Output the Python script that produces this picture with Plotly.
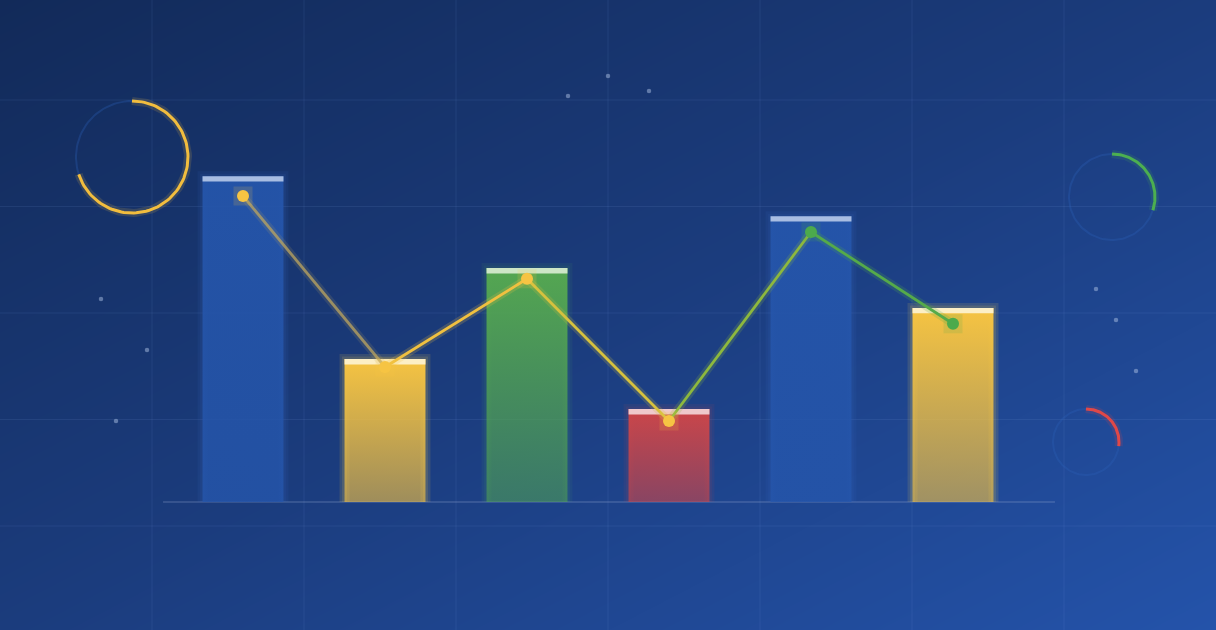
"""Decorative bar + line combo chart on a dark blue gradient"""
import numpy as np
import plotly.graph_objects as go

# ---- data ----
categories = ["A", "B", "C", "D", "E", "F"]
bar_values = [90.5, 39.7, 65, 25.8, 79.4, 53.9]
line_values = [85, 37.5, 62, 22.5, 75, 49.5]
bar_kinds = ["blue", "yellow", "green", "red", "blue", "yellow"]
point_kinds = ["yellow", "yellow", "yellow", "yellow", "green", "green"]
progress = [0.70, 0.30, 0.27]  # decorative rings: yellow, green, red

# ---- styles ----
W, H = 1216, 630
BAR_W = 0.57
CAP = 1.5

fills = {
    "blue": [[0, "rgba(37,86,172,0.80)"], [1, "rgba(37,86,172,0.92)"]],
    "yellow": [[0, "rgba(245,194,66,0.60)"], [1, "rgba(246,196,66,1)"]],
    "green": [[0, "rgba(82,165,82,0.55)"], [1, "rgba(86,170,80,0.97)"]],
    "red": [[0, "rgba(208,70,72,0.60)"], [1, "rgba(208,70,72,0.97)"]],
}
glows = {
    "blue": "rgba(60,110,200,0.10)",
    "yellow": "rgba(250,205,80,0.13)",
    "green": "rgba(90,180,90,0.08)",
    "red": "rgba(220,80,80,0.08)",
}
caps = {"blue": "#a8bde2", "yellow": "#fcefc6", "green": "#cde6c6", "red": "#efc9cc"}
point_colors = {"yellow": "#f6c443", "green": "#4caa4c"}
segment_colors = ["rgba(190,165,95,0.75)", "#f0c040", "#d6c13e", "#8db83e", "#55aa4a"]

fig = go.Figure()

# ---- background (pixel space subplot x/y) ----
fig.add_trace(go.Heatmap(
    x=[0, W], y=[0, H], z=[[0, 0.5], [0.5, 1]],
    zsmooth="best", showscale=False, hoverinfo="skip",
    colorscale=[[0, "#122a59"], [0.5, "#1b3c7d"], [1, "#2453aa"]],
    xaxis="x", yaxis="y",
))

grid_color = "rgba(140,170,235,0.11)"
for gx in range(152, W, 152):
    fig.add_trace(go.Scatter(x=[gx, gx], y=[0, H], mode="lines", hoverinfo="skip",
                             line=dict(color=grid_color, width=1), xaxis="x", yaxis="y"))
for gy in np.arange(100, H, 106.5):
    fig.add_trace(go.Scatter(x=[0, W], y=[gy, gy], mode="lines", hoverinfo="skip",
                             line=dict(color=grid_color, width=1), xaxis="x", yaxis="y"))

# floating dots
dots_x = [568, 608, 649, 101, 147, 116, 1096, 1116, 1136]
dots_y = [96, 76, 91, 299, 350, 421, 289, 320, 371]
fig.add_trace(go.Scatter(x=dots_x, y=dots_y, mode="markers", hoverinfo="skip",
                         marker=dict(size=4.5, color="rgba(170,190,225,0.5)"),
                         xaxis="x", yaxis="y"))

# progress rings
rings = [
    ((132, 157), 56, "#f2bd3e", progress[0]),
    ((1112, 197), 43, "#4caf50", progress[1]),
    ((1086, 442), 33, "#e04848", progress[2]),
]
for (cx, cy), r, col, frac in rings:
    t = np.linspace(0, 2 * np.pi, 120)
    fig.add_trace(go.Scatter(x=cx + r * np.cos(t), y=cy + r * np.sin(t), mode="lines",
                             hoverinfo="skip", line=dict(color="rgba(45,95,185,0.32)", width=2),
                             xaxis="x", yaxis="y"))
    a = np.linspace(-np.pi / 2, -np.pi / 2 + 2 * np.pi * frac, 100)
    ax_, ay_ = cx + r * np.cos(a), cy + r * np.sin(a)
    fig.add_trace(go.Scatter(x=ax_, y=ay_, mode="lines", hoverinfo="skip",
                             line=dict(color=col, width=8), opacity=0.15,
                             xaxis="x", yaxis="y"))
    fig.add_trace(go.Scatter(x=ax_, y=ay_, mode="lines", hoverinfo="skip",
                             line=dict(color=col, width=3),
                             xaxis="x", yaxis="y"))

# ---- chart (data space subplot x2/y2) ----
xs = list(range(len(categories)))


def rect(i, y0, y1):
    return ([i - BAR_W / 2, i + BAR_W / 2, i + BAR_W / 2, i - BAR_W / 2, i - BAR_W / 2],
            [y0, y0, y1, y1, y0])


# soft halo behind each bar (open path: sides and top only)
for i, (v, kind) in enumerate(zip(bar_values, bar_kinds)):
    hx = [i - BAR_W / 2, i - BAR_W / 2, i + BAR_W / 2, i + BAR_W / 2]
    hy = [0, v, v, 0]
    for w in (10, 5):
        fig.add_trace(go.Scatter(x=hx, y=hy, mode="lines", hoverinfo="skip",
                                 line=dict(color=glows[kind], width=w),
                                 xaxis="x2", yaxis="y2"))

for i, (v, kind) in enumerate(zip(bar_values, bar_kinds)):
    rx, ry = rect(i, 0, v)
    fig.add_trace(go.Scatter(
        x=rx, y=ry, mode="lines", fill="toself", hoverinfo="skip",
        line=dict(width=0),
        fillgradient=dict(type="vertical", colorscale=fills[kind]),
        xaxis="x2", yaxis="y2", name=categories[i],
    ))
    cx_, cy_ = rect(i, v - CAP, v)
    fig.add_trace(go.Scatter(
        x=cx_, y=cy_, mode="lines", fill="toself", hoverinfo="skip",
        fillcolor=caps[kind], line=dict(width=0),
        xaxis="x2", yaxis="y2",
    ))

# line glow + segments
for i in range(len(xs) - 1):
    seg_x = xs[i:i + 2]
    seg_y = line_values[i:i + 2]
    fig.add_trace(go.Scatter(x=seg_x, y=seg_y, mode="lines", hoverinfo="skip",
                             line=dict(color=segment_colors[i], width=8), opacity=0.2,
                             xaxis="x2", yaxis="y2"))
    fig.add_trace(go.Scatter(x=seg_x, y=seg_y, mode="lines", hoverinfo="skip",
                             line=dict(color=segment_colors[i], width=2.8),
                             xaxis="x2", yaxis="y2"))

pcols = [point_colors[k] for k in point_kinds]
fig.add_trace(go.Scatter(x=xs, y=line_values, mode="markers", hoverinfo="skip",
                         marker=dict(symbol="square", size=19, color=pcols, opacity=0.16),
                         xaxis="x2", yaxis="y2"))
fig.add_trace(go.Scatter(x=xs, y=line_values, mode="markers",
                         marker=dict(size=12, color=pcols),
                         hovertemplate="%{y}<extra></extra>",
                         xaxis="x2", yaxis="y2"))

# baseline
fig.add_shape(type="line", xref="x2", yref="y2", x0=-0.563, x1=5.718, y0=0, y1=0,
              line=dict(color="rgba(150,170,210,0.45)", width=1), layer="below")

hidden = dict(visible=False, showgrid=False, zeroline=False, fixedrange=True)
fig.update_layout(
    width=W, height=H,
    margin=dict(l=0, r=0, t=0, b=0),
    paper_bgcolor="#1b3c7d", plot_bgcolor="rgba(0,0,0,0)",
    showlegend=False,
    xaxis=dict(range=[0, W], domain=[0, 1], **hidden),
    yaxis=dict(range=[H, 0], domain=[0, 1], **hidden),
    xaxis2=dict(range=[-243 / 142, (W - 243) / 142], domain=[0, 1], anchor="y2", **hidden),
    yaxis2=dict(range=[-128 / 3.6, 502 / 3.6], domain=[0, 1], anchor="x2", **hidden),
)

fig.write_html("out.html", config={"displayModeBar": False},
               post_script="document.body.style.margin='0';")
